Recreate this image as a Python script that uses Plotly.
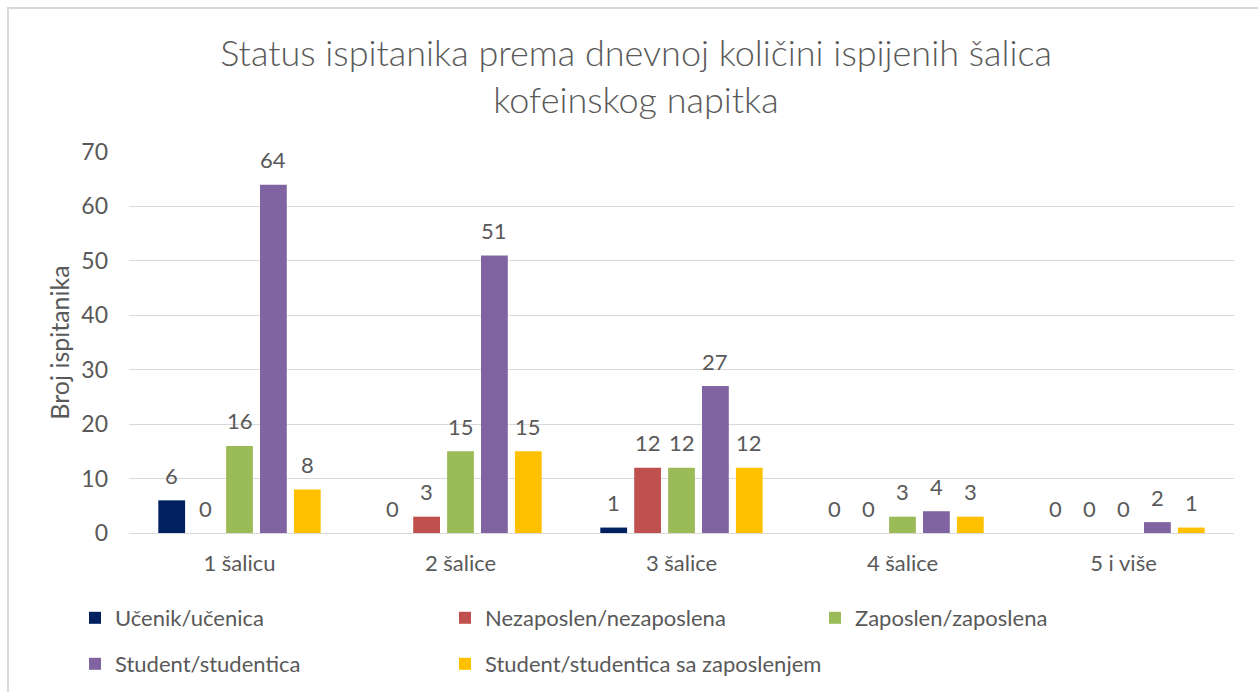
import plotly.graph_objects as go

# Categories: daily number of cups of a caffeinated drink
categories = ["1 šalicu", "2 šalice", "3 šalice", "4 šalice", "5 i više"]

# Respondent status groups
series_names = [
    "Učenik/učenica",
    "Nezaposlen/nezaposlena",
    "Zaposlen/zaposlena",
    "Student/studentica",
    "Student/studentica sa zaposlenjem",
]

ucenik = [6, 0, 1, 0, 0]
nezaposlen = [0, 3, 12, 0, 0]
zaposlen = [16, 15, 12, 3, 0]
student = [64, 51, 27, 4, 2]
student_zaposlen = [8, 15, 12, 3, 1]

series_values = [ucenik, nezaposlen, zaposlen, student, student_zaposlen]
colors = ["#002060", "#C0504D", "#9BBB59", "#8064A2", "#FFC000"]

y_ticks = [0, 10, 20, 30, 40, 50, 60, 70]

FONT = "Lato"
TEXT = "#595959"
GRID = "#D9D9D9"
FS = 22

W, H = 1258, 692
M_L, M_R, M_T, M_B = 129, 24, 152, 159
PLOT_W = W - M_L - M_R
PLOT_H = H - M_T - M_B
BARGAP = 0.233
BARGROUPGAP = 0.21

fig = go.Figure()

# legend layout: two rows, three equal columns
legend_of = ["legend", "legend", "legend", "legend2", "legend3"]

for name, vals, col, lg in zip(series_names, series_values, colors, legend_of):
    fig.add_trace(go.Bar(
        x=categories,
        y=vals,
        name=name,
        marker=dict(color=col, line=dict(width=0)),
        legend=lg,
        hovertemplate="%{x}: %{y}<extra>" + name + "</extra>",
    ))

# value labels above each bar, shifted to the bar's slot within its group
n = len(series_values)
slot = PLOT_W / len(categories) * (1 - BARGAP) / n
for i, vals in enumerate(series_values):
    for cat, v in zip(categories, vals):
        fig.add_annotation(
            x=cat, y=v, xref="x", yref="y",
            text=str(v), showarrow=False,
            xshift=(i - (n - 1) / 2) * slot,
            yshift=25, yanchor="middle",
            font=dict(family=FONT, size=FS, color=TEXT),
        )

legend_common = dict(
    orientation="h",
    xanchor="left",
    yanchor="middle",
    entrywidth=325,
    entrywidthmode="pixels",
    font=dict(family=FONT, size=FS, color=TEXT),
    bgcolor="rgba(0,0,0,0)",
    traceorder="normal",
)

COL_X = [75, 445]          # left edge of legend columns (px)
ROW_Y = [618, 664]         # vertical centre of legend rows (px)


def lx(px):
    return (px - M_L) / PLOT_W


def ly(py):
    return -(py - M_T - PLOT_H) / PLOT_H


# light grey frame around the whole chart
fig.add_shape(
    type="rect", xref="paper", yref="paper",
    x0=lx(8), x1=lx(W + 10),
    y0=ly(H + 10), y1=ly(8),
    line=dict(color="#D9D9D9", width=2),
    fillcolor="rgba(0,0,0,0)",
    layer="below",
)

fig.update_layout(
    width=W, height=H,
    margin=dict(l=M_L, r=M_R, t=M_T, b=M_B, pad=0, autoexpand=False),
    paper_bgcolor="white",
    plot_bgcolor="white",
    barmode="group",
    bargap=BARGAP,
    bargroupgap=BARGROUPGAP,
    title=dict(
        text="Status ispitanika prema dnevnoj količini ispijenih šalica<br>kofeinskog napitka",
        x=636 / W, xanchor="center",
        y=1 - 66 / H, yanchor="middle",
        font=dict(family=FONT, size=36, color=TEXT, weight=300),
    ),
    xaxis=dict(
        showgrid=False,
        showline=True, linecolor=GRID, linewidth=1,
        ticks="",
        tickfont=dict(family=FONT, size=FS, color=TEXT),
        ticklabelstandoff=11,
        fixedrange=True,
    ),
    yaxis=dict(
        range=[0, 70],
        tickvals=y_ticks,
        showgrid=True, gridcolor=GRID, gridwidth=1,
        zeroline=False,
        showline=False,
        ticks="",
        tickfont=dict(family=FONT, size=23, color=TEXT),
        ticklabelstandoff=20,
        title=dict(text="Broj ispitanika",
                   font=dict(family=FONT, size=25, color=TEXT),
                   standoff=4),
        fixedrange=True,
    ),
    legend=dict(legend_common, x=lx(COL_X[0]), y=ly(ROW_Y[0])),
    legend2=dict(legend_common, x=lx(COL_X[0]), y=ly(ROW_Y[1])),
    legend3=dict(legend_common, x=lx(COL_X[1]), y=ly(ROW_Y[1]), entrywidth=380),
    showlegend=True,
)

fig.write_html("out.html")
